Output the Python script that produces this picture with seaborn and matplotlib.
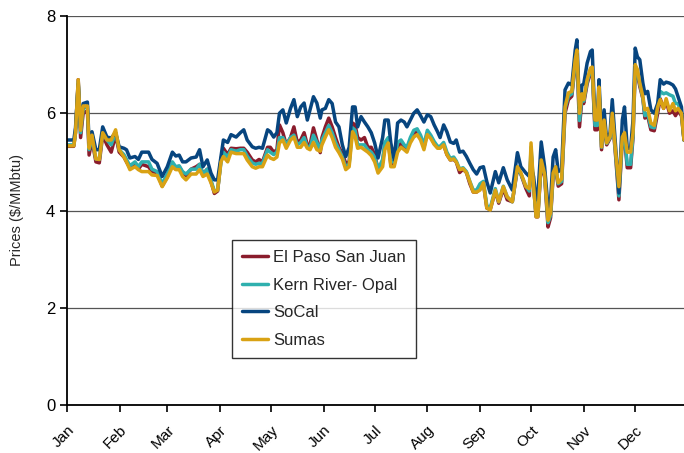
import pandas as pd
import matplotlib
matplotlib.use("Agg")
import matplotlib.pyplot as plt
import seaborn as sns

# day of year for each sampled price
days = [0, 4, 5, 6.6, 8, 9.5, 12, 13, 14.7, 17, 19, 21, 23.5, 26, 28.6, 30.7, 33.5, 35, 37, 40,
        42, 44, 48, 50, 53, 56, 59, 62, 64, 66, 68, 70, 73, 76, 78, 80, 82.5, 84.7, 86.7, 88.6,
        90.6, 92, 94.5, 96.5, 99.5, 102, 104, 106, 109, 111, 113, 115, 118, 119.6, 121.6, 123.5, 125, 127, 129, 131.5,
        133.5, 135.5, 137.5, 139.5, 141.4, 143, 145, 147, 149, 150, 152, 154, 156, 158, 160, 162, 164, 166, 168, 169.5,
        171, 173, 175, 177, 179, 181, 183, 185.7, 187, 189, 190.5, 192.5, 194.5, 196.5, 198.4, 200, 202, 204, 206, 208,
        210, 212, 214, 216, 218, 219.5, 221.6, 223.5, 225.5, 227.5, 229, 231, 233, 235, 237, 239, 241, 243, 245, 247,
        249, 252, 254, 256.7, 259, 262, 265, 267, 270, 272, 273, 274.5, 276, 277, 279, 281, 283, 284.5, 286, 287.5,
        289, 291, 293, 295, 297, 299, 300, 301.5, 303, 304, 306, 308, 309, 310.6, 312, 313, 314.5, 316, 317.5, 319.5,
        320.8, 322.8, 324.7, 326.7, 328, 329.6, 331.6, 333, 334.3, 335.6, 337, 338.8, 340, 341.6, 343.5, 345.5, 347.5, 349, 351, 352.5,
        354.5, 356.5, 358, 359.5, 361.5, 363]

socal = [5.45, 5.45, 5.7, 6.6, 5.7, 6.2, 6.23, 5.39, 5.62, 5.25, 5.25, 5.72, 5.51, 5.49, 5.6, 5.31, 5.28, 5.25, 5.08, 5.11,
         5.05, 5.2, 5.2, 5.05, 4.97, 4.7, 4.9, 5.2, 5.12, 5.14, 5.0, 5.0, 5.08, 5.1, 5.25, 4.9, 5.04, 4.77, 4.63, 4.63,
         5.11, 5.45, 5.4, 5.56, 5.51, 5.6, 5.66, 5.45, 5.31, 5.28, 5.3, 5.28, 5.66, 5.62, 5.51, 5.6, 6.0, 6.07, 5.8, 6.1,
         6.28, 5.93, 6.13, 6.21, 5.86, 6.07, 6.34, 6.21, 5.9, 6.07, 6.1, 6.28, 6.2, 5.82, 5.72, 5.35, 5.11, 5.3, 6.13, 6.13,
         5.72, 5.93, 5.82, 5.72, 5.6, 5.39, 5.08, 5.5, 5.86, 5.86, 5.39, 5.04, 5.8, 5.86, 5.82, 5.72, 5.86, 6.0, 6.07, 5.95,
         5.82, 5.97, 5.93, 5.76, 5.62, 5.5, 5.76, 5.62, 5.41, 5.38, 5.45, 5.2, 5.22, 5.11, 4.97, 4.84, 4.75, 4.88, 4.9, 4.59,
         4.36, 4.8, 4.57, 4.88, 4.63, 4.42, 5.19, 4.9, 4.77, 4.7, 4.9, 4.7, 4.22, 4.3, 5.41, 4.9, 4.07, 4.2, 5.1, 5.25,
         4.8, 4.85, 6.48, 6.62, 6.58, 7.3, 7.51, 6.1, 6.58, 6.6, 7.03, 7.27, 7.3, 5.86, 5.9, 6.69, 5.45, 6.07, 5.45, 5.6,
         6.28, 5.31, 4.36, 5.86, 6.13, 5.28, 5.28, 5.86, 7.34, 7.16, 7.1, 6.62, 6.4, 6.45, 6.07, 6.0, 6.2, 6.69, 6.6, 6.64,
         6.62, 6.58, 6.5, 6.34, 6.13, 5.45]

el_paso = [5.32, 5.32, 5.6, 6.69, 5.5, 6.0, 6.05, 5.14, 5.45, 5.0, 4.98, 5.55, 5.35, 5.2, 5.55, 5.2, 5.1, 5.0, 4.88, 4.95,
           4.85, 4.95, 4.9, 4.8, 4.78, 4.5, 4.7, 4.95, 4.85, 4.9, 4.78, 4.72, 4.85, 4.9, 4.95, 4.75, 4.85, 4.6, 4.35, 4.4,
           5.05, 5.28, 5.15, 5.28, 5.27, 5.28, 5.28, 5.2, 5.04, 5.0, 5.05, 5.0, 5.3, 5.3, 5.2, 5.25, 5.76, 5.6, 5.35, 5.5,
           5.72, 5.4, 5.45, 5.6, 5.35, 5.35, 5.7, 5.45, 5.19, 5.5, 5.72, 5.9, 5.72, 5.5, 5.3, 5.17, 4.97, 5.0, 5.8, 5.76,
           5.5, 5.45, 5.5, 5.3, 5.3, 5.15, 4.85, 5.0, 5.35, 5.45, 4.95, 4.95, 5.3, 5.4, 5.3, 5.25, 5.45, 5.6, 5.62, 5.5,
           5.3, 5.6, 5.52, 5.38, 5.3, 5.3, 5.35, 5.15, 5.04, 5.05, 5.0, 4.78, 4.85, 4.78, 4.55, 4.38, 4.38, 4.45, 4.55, 4.05,
           4.02, 4.4, 4.15, 4.45, 4.22, 4.18, 4.85, 4.75, 4.45, 4.3, 5.2, 4.5, 3.87, 3.87, 4.95, 4.7, 3.66, 3.85, 4.7, 4.85,
           4.5, 4.55, 6.0, 6.28, 6.35, 7.0, 7.2, 5.72, 6.3, 6.2, 6.6, 6.85, 6.88, 5.66, 5.66, 6.45, 5.25, 5.8, 5.35, 5.48,
           5.95, 5.1, 4.22, 5.45, 5.5, 4.88, 4.88, 5.5, 6.9, 6.8, 6.55, 6.3, 5.9, 5.95, 5.66, 5.64, 6.0, 6.3, 6.1, 6.25,
           6.0, 6.05, 5.95, 6.05, 5.95, 5.45]

kern_river = [5.35, 5.35, 5.6, 6.65, 5.6, 6.1, 6.15, 5.25, 5.5, 5.06, 5.05, 5.6, 5.45, 5.35, 5.6, 5.25, 5.15, 5.05, 4.92, 5.0,
              4.9, 5.0, 5.0, 4.85, 4.8, 4.55, 4.75, 5.0, 4.9, 4.92, 4.8, 4.75, 4.85, 4.85, 4.95, 4.75, 4.85, 4.62, 4.4, 4.42,
              5.0, 5.2, 5.1, 5.25, 5.22, 5.25, 5.25, 5.12, 4.98, 4.95, 4.97, 4.97, 5.25, 5.2, 5.15, 5.2, 5.5, 5.5, 5.35, 5.5,
              5.55, 5.35, 5.4, 5.5, 5.3, 5.3, 5.55, 5.4, 5.25, 5.45, 5.6, 5.75, 5.6, 5.4, 5.25, 5.1, 4.9, 4.95, 5.7, 5.65,
              5.35, 5.35, 5.35, 5.25, 5.2, 5.1, 4.85, 5.05, 5.4, 5.5, 5.0, 5.0, 5.4, 5.45, 5.35, 5.3, 5.5, 5.65, 5.68, 5.55,
              5.35, 5.65, 5.55, 5.42, 5.32, 5.32, 5.4, 5.2, 5.07, 5.1, 5.02, 4.85, 4.88, 4.8, 4.6, 4.42, 4.42, 4.55, 4.6, 4.1,
              4.05, 4.45, 4.18, 4.5, 4.28, 4.18, 4.9, 4.75, 4.5, 4.4, 5.3, 4.5, 3.9, 3.9, 5.0, 4.75, 3.75, 3.9, 4.75, 4.9,
              4.55, 4.6, 6.1, 6.35, 6.4, 7.05, 7.25, 5.85, 6.35, 6.25, 6.65, 6.9, 6.9, 5.75, 5.75, 6.5, 5.3, 5.85, 5.38, 5.5,
              5.98, 5.15, 4.3, 5.5, 5.55, 4.95, 4.95, 5.55, 6.95, 6.85, 6.6, 6.32, 5.95, 6.0, 5.72, 5.7, 6.12, 6.45, 6.4, 6.42,
              6.38, 6.35, 6.2, 6.2, 6.0, 5.45]

sumas = [5.33, 5.33, 5.6, 6.69, 5.65, 6.15, 6.15, 5.28, 5.55, 5.06, 5.05, 5.6, 5.45, 5.45, 5.66, 5.25, 5.1, 5.0, 4.84, 4.9,
         4.84, 4.8, 4.8, 4.73, 4.72, 4.49, 4.67, 4.9, 4.84, 4.84, 4.7, 4.63, 4.75, 4.75, 4.84, 4.7, 4.75, 4.57, 4.38, 4.42,
         5.0, 5.11, 5.0, 5.2, 5.17, 5.17, 5.17, 5.04, 4.9, 4.87, 4.9, 4.9, 5.14, 5.08, 5.05, 5.1, 5.39, 5.45, 5.28, 5.45,
         5.51, 5.3, 5.3, 5.4, 5.28, 5.25, 5.4, 5.25, 5.22, 5.35, 5.51, 5.66, 5.5, 5.3, 5.19, 5.06, 4.84, 4.9, 5.62, 5.52,
         5.28, 5.3, 5.25, 5.2, 5.13, 5.0, 4.77, 4.9, 5.25, 5.39, 4.9, 4.9, 5.2, 5.3, 5.25, 5.2, 5.39, 5.51, 5.56, 5.45,
         5.25, 5.56, 5.48, 5.36, 5.28, 5.28, 5.35, 5.15, 5.04, 5.06, 5.0, 4.84, 4.86, 4.78, 4.59, 4.38, 4.38, 4.42, 4.57, 4.05,
         4.01, 4.42, 4.18, 4.49, 4.28, 4.18, 4.9, 4.78, 4.49, 4.45, 5.39, 4.5, 3.87, 3.87, 5.04, 4.75, 3.8, 3.95, 4.77, 4.9,
         4.57, 4.65, 6.13, 6.42, 6.45, 7.1, 7.3, 6.0, 6.4, 6.28, 6.69, 6.93, 6.95, 5.86, 5.86, 6.54, 5.31, 5.86, 5.39, 5.52,
         6.0, 5.19, 4.49, 5.51, 5.6, 5.2, 5.2, 5.6, 7.0, 6.9, 6.62, 6.34, 6.07, 6.1, 5.8, 5.75, 6.13, 6.28, 6.1, 6.3,
         6.05, 6.2, 6.05, 6.1, 6.0, 5.45]

hubs = ["El Paso San Juan", "Kern River- Opal", "SoCal", "Sumas"]
colors = ["#8A1C2C", "#2FB0AE", "#07457F", "#D9A214"]

month_starts = [0, 31, 59, 90, 120, 151, 181, 212, 243, 273, 304, 334]
month_labels = ["Jan", "Feb", "Mar", "Apr", "May", "Jun", "Jul", "Aug", "Sep", "Oct", "Nov", "Dec"]

frames = []
for name, vals in zip(hubs, [el_paso, kern_river, socal, sumas]):
    frames.append(pd.DataFrame({"day": days, "price": vals, "hub": name}))
df = pd.concat(frames, ignore_index=True)

sns.set_style("white")
plt.rcParams["font.family"] = ["Liberation Sans", "DejaVu Sans"]

fig = plt.figure(figsize=(6.84, 4.53), dpi=100)
ax = fig.add_axes([67 / 684, 48 / 453, 617 / 684, 389 / 453])

sns.lineplot(data=df, x="day", y="price", hue="hub", hue_order=hubs,
             palette=dict(zip(hubs, colors)), linewidth=2.5, ax=ax)

ax.set_xlim(0, 363)
ax.set_ylim(0, 8)
ax.set_yticks([0, 2, 4, 6, 8])
ax.set_xticks(month_starts)
ax.set_xticklabels(month_labels, rotation=45, ha="right", rotation_mode="anchor", fontsize=11)
ax.tick_params(axis="y", labelsize=12, length=5, width=1.2, direction="out", left=True, colors="black")
ax.tick_params(axis="x", length=5, width=1.2, direction="out", bottom=True, colors="black", pad=8)
ax.set_xlabel("")
ax.set_ylabel("Prices ($/MMbtu)", fontsize=10.5, labelpad=16)

ax.yaxis.grid(True, color="#555555", linewidth=0.9)
ax.set_axisbelow(True)
for side in ["top", "right"]:
    ax.spines[side].set_visible(False)
for side in ["left", "bottom"]:
    ax.spines[side].set_color("black")
    ax.spines[side].set_linewidth(1.3)

leg = ax.legend(loc="upper left", bbox_to_anchor=(0.267, 0.424), borderaxespad=0,
                fontsize=12, frameon=True, fancybox=False, handlelength=1.6,
                handletextpad=0.3, labelspacing=0.75, borderpad=0.6, title=None)
leg.get_frame().set_edgecolor("black")
leg.get_frame().set_linewidth(1.0)
for line in leg.get_lines():
    line.set_linewidth(2.5)

fig.savefig("out.png", dpi=100)
plt.close(fig)
